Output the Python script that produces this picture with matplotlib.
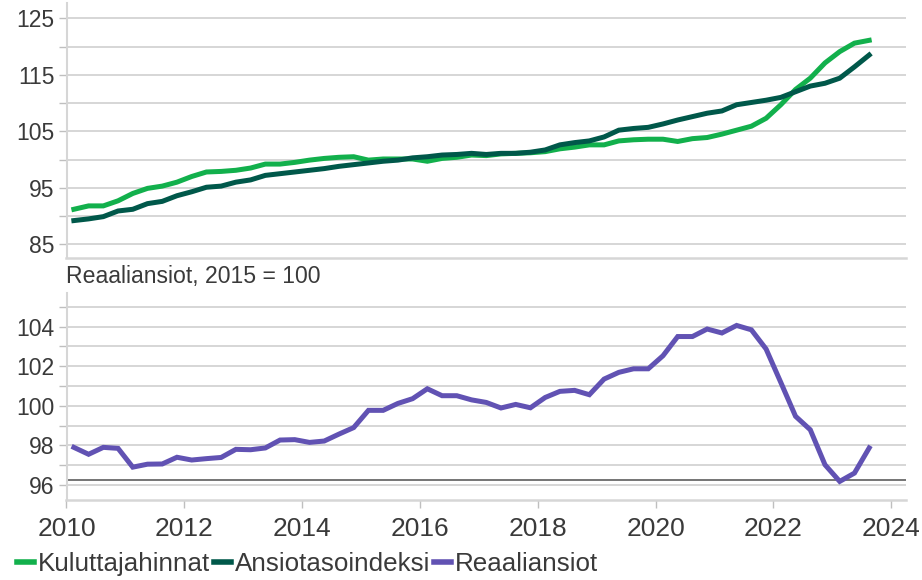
import numpy as np
import matplotlib
matplotlib.use("Agg")
import matplotlib.pyplot as plt
from matplotlib.lines import Line2D

plt.rcParams['font.family'] = ['Liberation Sans', 'DejaVu Sans']

# Quarterly data 2010Q1 .. 2023Q3
start_year = 2010
n_quarters = 55
kuluttajahinnat = [
    91.2, 91.8, 91.8, 92.7, 94.0, 94.9, 95.3, 96.0, 97.0, 97.8,
    97.9, 98.1, 98.5, 99.2, 99.2, 99.5, 99.9, 100.2, 100.4, 100.5,
    99.9, 100.1, 100.1, 100.1, 99.7, 100.2, 100.4, 100.8, 100.7, 101.0,
    101.1, 101.2, 101.4, 101.9, 102.2, 102.6, 102.6, 103.3, 103.5, 103.6,
    103.6, 103.2, 103.7, 103.9, 104.5, 105.2, 105.9, 107.3, 109.7, 112.4,
    114.4, 117.1, 119.1, 120.6, 121.1,
]
ansiotasoindeksi = [
    89.2, 89.5, 89.9, 90.9, 91.2, 92.2, 92.6, 93.6, 94.3, 95.1,
    95.3, 96.0, 96.4, 97.2, 97.5, 97.8, 98.1, 98.4, 98.8, 99.1,
    99.4, 99.7, 99.9, 100.3, 100.5, 100.8, 100.9, 101.1, 100.9, 101.1,
    101.1, 101.3, 101.7, 102.6, 103.0, 103.3, 104.0, 105.2, 105.5, 105.7,
    106.3, 107.0, 107.6, 108.2, 108.6, 109.7, 110.1, 110.5, 111.0, 112.0,
    113.0, 113.5, 114.4, 116.4, 118.5,
]
reaaliansiot = [
    97.9, 97.55, 97.9, 97.85, 96.9, 97.05, 97.06, 97.4, 97.26, 97.33,
    97.39, 97.8, 97.78, 97.87, 98.27, 98.29, 98.15, 98.22, 98.57, 98.9,
    99.77, 99.77, 100.12, 100.36, 100.86, 100.51, 100.51, 100.3, 100.17, 99.89,
    100.07, 99.9, 100.42, 100.73, 100.78, 100.56, 101.35, 101.69, 101.87, 101.87,
    102.53, 103.5, 103.5, 103.88, 103.68, 104.06, 103.84, 102.87, 101.18, 99.47,
    98.79, 97.02, 96.18, 96.6, 97.87,
]
series_names = ["Kuluttajahinnat", "Ansiotasoindeksi", "Reaaliansiot"]
subtitle = "Reaaliansiot, 2015 = 100"
top_ticks = [85, 95, 105, 115, 125]
bottom_ticks = [96, 98, 100, 102, 104]
x_ticks = [2010, 2012, 2014, 2016, 2018, 2020, 2022, 2024]
reference_level = 96.25

c_green = "#12b04c"
c_dark = "#00584a"
c_purple = "#6152b3"
grid_c = "#cfcfcf"
text_c = "#3a3a3a"

t = start_year + 0.125 + 0.25 * np.arange(n_quarters)

W, H = 922, 580
fig = plt.figure(figsize=(W / 100, H / 100), dpi=100)

left = 66.5 / W
width = (906 - 66.5) / W
ax1 = fig.add_axes([left, 1 - 258 / H, width, (258 - 3.3) / H])
ax2 = fig.add_axes([left, 1 - 500 / H, width, (500 - 293) / H])

for ax in (ax1, ax2):
    ax.set_xlim(2010, 2024.25)
    for s in ("top", "right"):
        ax.spines[s].set_visible(False)
    ax.spines["left"].set_color("#d6d6d6")
    ax.spines["left"].set_linewidth(1.5)
    ax.spines["bottom"].set_color("#d6d6d6")
    ax.spines["bottom"].set_linewidth(1.8)
    ax.tick_params(axis="y", which="both", length=6, width=1.0, color="#bfbfbf",
                   labelsize=16.5, labelcolor=text_c, pad=2.7)
    ax.grid(axis="y", which="both", color=grid_c, linewidth=1.2)
    ax.set_axisbelow(True)

# Top panel
ax1.plot(t, kuluttajahinnat, color=c_green, lw=3.6, solid_joinstyle="miter", zorder=3)
ax1.plot(t, ansiotasoindeksi, color=c_dark, lw=3.6, solid_joinstyle="miter", zorder=3)
ax1.set_ylim(82.58, 127.65)
ax1.set_yticks(top_ticks)
ax1.set_yticks([90, 100, 110, 120], minor=True)
ax1.set_xticks(x_ticks)
ax1.tick_params(axis="x", length=0, labelbottom=False)

# Bottom panel
ax2.axhline(reference_level, color="#6a6a6a", lw=1.3, zorder=2)
ax2.plot(t, reaaliansiot, color=c_purple, lw=3.6, solid_joinstyle="miter", zorder=3)
ax2.set_ylim(95.24, 105.7)
ax2.set_yticks(bottom_ticks)
ax2.set_yticks([97, 99, 101, 103, 105], minor=True)
ax2.set_xticks(x_ticks)
ax2.set_xticklabels([str(x) for x in x_ticks])
ax2.tick_params(axis="x", length=6, width=1.0, color="#bfbfbf",
                labelsize=19, labelcolor=text_c, pad=6)

fig.text(66 / W, 1 - 277 / H, subtitle, fontsize=16.6, color=text_c,
         ha="left", va="center")

handles = [Line2D([], [], color=c, lw=4) for c in (c_green, c_dark, c_purple)]
fig.legend(handles, series_names, loc="center left", bbox_to_anchor=(17 / W, 1 - 564 / H),
           ncol=3, frameon=False, fontsize=18.7, handlelength=0.65, handletextpad=0.15,
           columnspacing=0.15, labelcolor=text_c, borderpad=0, borderaxespad=0)

fig.savefig("out.png", dpi=100)
